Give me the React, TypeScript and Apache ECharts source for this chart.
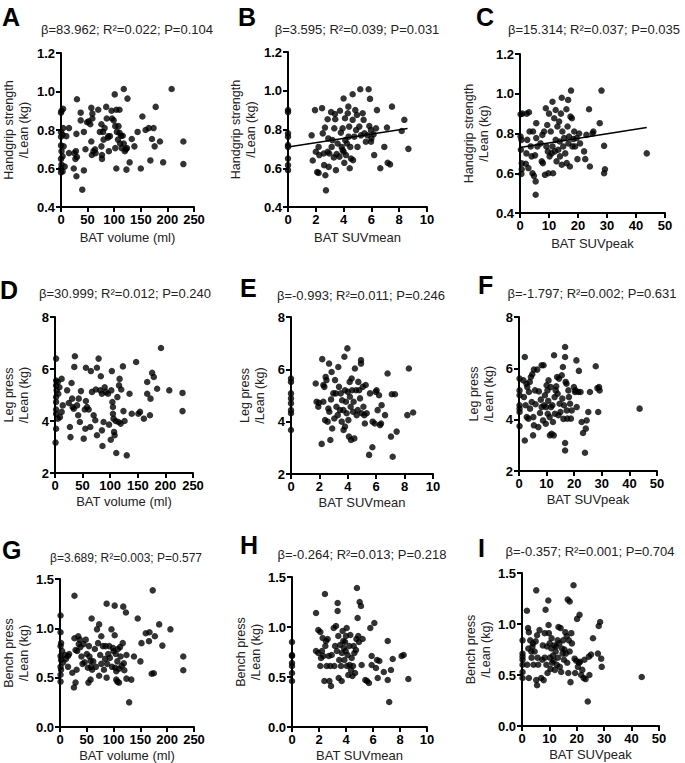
import React, { useEffect, useRef } from "react";
import * as echarts from "echarts";

const FONT = "'Liberation Sans', Arial, Helvetica, sans-serif";

// ---- data ----
const panelA: number[][] = [
  [4,0.91],[1,0.90],[0,0.89],[4,0.81],[0,0.79],[3,0.776],[0,0.765],[10,0.768],[5,0.715],[0,0.72],[1,0.69],[3,0.663],[0,0.65],[1,0.62],[7,0.61],[0,0.60],[3,0.585],[0,0.58],
  [15,0.81],[15,0.68],[25,0.68],[28,0.69],[30,0.96],[29,0.78],[30,0.66],[27,0.65],[24,0.60],[29,0.56],[40,0.49],[43,0.59],[37,0.89],[37,0.85],[43,0.79],[46,0.70],
  [49,0.84],[52,0.845],[55,0.83],[57,0.915],[57,0.74],[59,0.86],[59,0.885],[58,0.67],[61,0.69],[64,0.70],[65,0.68],[70,0.905],[73,0.79],[76,0.83],[76,0.715],[77,0.67],
  [77,0.65],[79,0.79],[80,0.75],[82,0.81],[85,0.92],[86,0.86],[88,0.76],[89,0.768],[92,0.768],[90,0.69],[95,0.90],[96,0.86],[99,0.85],[101,0.985],[102,0.82],[102,0.706],
  [104,0.60],[104,0.905],[105,0.79],[107,0.75],[108,0.82],[110,0.785],[110,0.905],[111,0.73],[113,0.77],[114,0.706],[116,0.77],[118,1.013],[118,0.73],[120,0.69],[122,0.70],
  [123,0.594],[125,0.963],[124,0.706],[129,0.632],[133,0.753],[138,0.715],[144,0.79],[150,0.60],[153,0.87],[159,0.80],[165,0.81],[168,0.642],[171,0.753],[174,0.81],
  [176,0.715],[178,0.92],[186,0.74],[192,0.632],[208,1.013],[230,0.74],[230,0.623]
];
const panelB: number[][] = [
  [0,0.90],[0,0.89],[0,0.78],[0,0.763],[0,0.72],[0,0.71],[0,0.65],[0,0.616],[0,0.59],
  [1.7,0.77],[1.78,0.64],[1.94,0.90],[2.0,0.685],[2.1,0.58],[2.2,0.71],[2.25,0.668],[2.2,0.576],[2.45,0.91],[2.5,0.78],[2.57,0.676],[2.6,0.616],[2.66,0.81],[2.69,0.564],
  [2.73,0.486],[2.85,0.853],[2.9,0.754],[2.85,0.685],[2.93,0.607],[2.97,0.676],[3.1,0.89],[3.14,0.71],[3.2,0.745],[3.3,0.656],[3.33,0.806],[3.38,0.88],[3.4,0.853],
  [3.45,0.59],[3.5,0.673],[3.57,0.728],[3.7,0.66],[3.74,0.897],[3.8,0.784],[3.86,0.71],[3.93,0.694],[3.93,0.806],[4.0,0.96],[4.0,0.685],[4.05,0.628],[4.1,0.858],
  [4.12,0.745],[4.17,0.668],[4.24,0.728],[4.3,0.884],[4.34,0.918],[4.36,0.763],[4.4,0.815],[4.44,0.6],[4.48,0.71],[4.53,0.65],[4.65,0.982],[4.65,0.85],[4.68,0.642],
  [4.77,0.763],[4.84,0.90],[4.9,0.797],[4.96,0.875],[5.0,0.71],[5.13,0.815],[5.2,1.008],[5.25,0.77],[5.37,0.884],[5.44,0.85],[5.5,0.78],[5.6,0.737],[5.73,0.77],
  [5.8,1.008],[5.85,0.818],[5.9,0.958],[5.97,0.797],[5.97,0.737],[6.0,0.754],[6.16,0.775],[6.2,0.668],[6.33,0.806],[6.4,0.90],[6.64,0.6],[6.93,0.71],[7.12,0.81],
  [7.17,0.628],[7.34,0.62],[7.48,0.918],[8.18,0.792],[8.37,0.85],[8.66,0.70]
];
const panelC: number[][] = [
  [0.2,0.897],[0.8,0.90],[0.2,0.785],[0.5,0.768],[0.3,0.718],[0.6,0.65],[0.6,0.62],[0.5,0.597],[2,0.648],[2.2,0.70],[2.3,0.90],[2.5,0.768],[2.9,0.626],[3.1,0.907],
  [3.3,0.81],[3.7,0.735],[4,0.685],[4.3,0.60],[4.5,0.81],[4.8,0.587],[5.2,0.69],[5.4,0.559],[5.4,0.492],[5.6,0.852],[5.6,0.777],[6,0.735],[7.1,0.75],[7.5,0.66],
  [7.7,0.793],[7.9,0.651],[8.3,0.81],[8.6,0.592],[8.9,0.927],[9.1,0.735],[9.4,0.843],[9.6,0.71],[9.8,0.60],[10,0.90],[10.2,0.685],[10.6,0.81],[10.9,0.70],[11.2,0.96],
  [11.2,0.735],[11.4,0.60],[11.8,0.877],[12,0.71],[12.3,0.768],[12.3,0.918],[12.6,0.66],[12.9,0.835],[13.2,0.718],[13.5,0.86],[13.7,0.76],[13.8,0.685],[14.1,0.90],
  [14.4,0.98],[14.4,0.643],[14.6,0.81],[14.9,0.735],[15.2,0.777],[15.6,0.70],[16,0.922],[16.1,0.651],[16.4,0.835],[16.6,0.969],[16.7,0.75],[16.9,0.785],[17.2,0.634],
  [17.4,0.885],[17.6,1.016],[17.9,0.877],[18.1,0.735],[18.4,0.772],[18.7,0.81],[19,0.735],[19.5,0.777],[19.8,0.671],[20.4,0.80],[20.7,0.75],[22.1,0.71],[22.5,0.671],
  [22.9,0.793],[23.8,0.922],[24.1,0.634],[25,0.80],[25.3,0.81],[27.5,0.852],[28.1,1.016],[29,0.738],[29,0.60],[29.3,0.62],[43.7,0.70]
];
const panelD: number[][] = [
  [2,6.4],[2,5.56],[2,5.37],[3,5.18],[2,4.92],[2,4.73],[2,4.44],[2,4.28],[2,3.7],[1,3.17],[5,5.5],[6,5.05],[8,5.3],[5,4.09],[9,4.15],[12,5.62],[14,4.6],[12,4.35],
  [22,5.18],[25,4.69],[27,3.77],[28,3.38],[30,5.46],[31,4.86],[32,4.54],[34,4.47],[35,6.08],[36,6.49],[40,4.6],[42,4.22],[43,4.86],[45,3.96],[47,5.15],[52,3.32],
  [54,4.44],[55,3.7],[56,6.05],[56,4.77],[58,4.54],[61,4.44],[64,3.77],[65,5.92],[67,5.12],[70,4.22],[73,4.03],[74,5.21],[76,3.45],[76,6.05],[79,6.4],[82,5.18],
  [83,5.72],[85,5.05],[85,3.64],[86,3.04],[88,3.96],[90,5.3],[92,5.12],[96,5.05],[98,3.86],[101,3.28],[102,5.18],[103,5.92],[104,4.73],[105,4.54],[105,4.28],[106,4.09],
  [107,3.58],[108,3.45],[110,4.0],[111,2.77],[113,4.92],[115,3.96],[116,5.37],[117,5.62],[119,3.9],[120,5.21],[123,6.1],[124,4.38],[126,4.0],[130,2.68],[135,5.05],
  [139,4.28],[147,6.27],[151,4.28],[154,4.35],[161,4.09],[167,5.5],[167,5.05],[172,4.22],[173,4.86],[176,5.85],[179,5.69],[185,5.24],[192,6.81],[207,5.18],[231,5.08],[231,4.38]
];
const panelE: number[][] = [
  [0,5.65],[0,5.52],[0,5.08],[0,4.89],[0,4.7],[0,4.44],[0,4.32],[0,3.68],
  [1.74,5.46],[1.8,4.76],[1.92,4.57],[1.97,4.72],[2.16,3.15],[2.2,6.39],[2.28,4.76],[2.28,5.4],[2.35,5.33],[2.4,4.06],[2.44,5.71],[2.5,5.59],[2.58,4.0],[2.63,4.5],
  [2.68,6.22],[2.7,4.38],[2.77,3.3],[2.82,4.85],[2.86,5.9],[2.9,3.74],[2.98,5.08],[3.05,4.12],[3.1,5.59],[3.15,5.08],[3.2,4.57],[3.29,4.25],[3.33,6.09],[3.38,5.33],
  [3.45,4.44],[3.5,5.08],[3.57,4.0],[3.6,4.82],[3.69,4.44],[3.7,3.68],[3.76,6.48],[3.8,5.2],[3.8,3.81],[3.87,4.76],[3.92,4.32],[3.97,6.8],[4.0,5.14],[4.04,4.06],
  [4.08,3.43],[4.13,5.52],[4.15,4.95],[4.2,4.57],[4.23,3.3],[4.27,5.65],[4.3,5.2],[4.37,4.38],[4.41,4.76],[4.46,3.36],[4.5,6.03],[4.58,5.2],[4.62,4.25],[4.7,4.44],
  [4.74,5.52],[4.8,5.2],[4.86,4.89],[4.93,6.35],[4.93,6.22],[4.98,4.32],[5.05,5.33],[5.1,4.57],[5.16,4.25],[5.2,3.93],[5.26,5.4],[5.33,4.32],[5.5,2.73],[5.56,5.08],
  [5.73,3.02],[5.75,4.0],[5.9,3.93],[5.96,5.14],[6.03,5.2],[6.1,4.44],[6.2,5.01],[6.27,3.87],[6.34,3.93],[6.38,4.63],[6.62,4.25],[6.8,5.84],[7.04,3.43],[7.1,5.05],
  [7.16,2.66],[7.32,5.05],[7.44,3.62],[8.19,4.25],[8.3,6.03],[8.6,4.35]
];
const panelF: number[][] = [
  [0.2,5.6],[0.2,5.14],[0.2,4.95],[0.2,4.56],[0.2,4.43],[0.2,4.3],[0.2,3.75],[1.6,5.53],[1.8,4.88],[2.1,6.44],[2.1,3.19],[2.4,4.56],[2.7,5.4],[2.8,4.1],[3.0,5.27],
  [3.4,4.04],[3.6,5.08],[3.9,5.47],[4.0,4.43],[4.3,5.66],[4.6,4.69],[4.8,5.77],[5.1,3.39],[5.2,4.1],[5.4,3.78],[5.4,5.95],[5.8,5.14],[6.0,4.6],[6.6,5.95],[7.0,3.71],
  [7.2,5.1],[7.6,4.26],[7.9,4.78],[8.2,6.12],[8.2,4.49],[8.7,3.97],[8.9,6.12],[9.1,4.56],[9.4,4.95],[9.7,3.84],[9.8,4.49],[10,5.34],[10.3,5.14],[10.4,4.23],[10.6,4.73],
  [10.7,5.53],[11.1,4.1],[11.2,3.39],[11.5,5.27],[11.6,4.49],[11.8,3.45],[12.1,4.56],[12.3,3.91],[12.6,3.39],[12.7,6.51],[12.9,4.88],[13.0,4.23],[13.3,5.14],[13.5,5.3],
  [13.8,5.66],[14.0,5.01],[14.3,4.17],[14.5,5.6],[14.7,4.62],[15.0,4.3],[15.5,5.73],[15.7,4.82],[15.9,6.05],[16.1,4.03],[16.3,4.56],[16.7,6.83],[16.7,6.44],[16.7,3.09],
  [16.7,2.8],[16.9,5.47],[17.2,5.4],[17.3,4.36],[17.5,4.04],[17.9,5.14],[18.1,4.88],[18.5,4.62],[18.8,4.04],[19.1,4.36],[19.9,5.27],[20.3,5.08],[20.5,5.14],[20.8,6.31],
  [20.9,4.49],[21.5,5.08],[21.7,5.9],[22.3,5.08],[22.7,3.91],[23.2,3.48],[23.9,2.71],[24.2,3.65],[24.5,3.97],[25.1,4.3],[25.7,5.08],[27.8,6.08],[28.4,5.23],[28.7,4.3],
  [29,5.27],[29.2,5.14],[43.7,4.43]
];
const panelG: number[][] = [
  [1,1.13],[1,0.96],[2,0.85],[1,0.82],[4,0.77],[1,0.72],[2,0.68],[6,0.655],[1,0.61],[2,0.58],[1,0.53],[1,0.46],[9,0.73],[11,0.69],[15,0.72],[15,0.61],[17,0.74],
  [23,0.55],[26,0.40],[27,1.33],[27,0.90],[29,0.78],[29,0.45],[31,0.58],[32,0.77],[34,0.92],[35,0.84],[37,0.885],[38,0.81],[40,0.715],[42,0.64],[44,0.84],[46,0.655],
  [48,0.885],[50,0.74],[52,0.60],[53,0.45],[54,0.82],[55,0.715],[57,0.48],[57,0.67],[58,0.61],[59,1.1],[60,0.58],[62,0.665],[65,0.79],[67,0.61],[69,0.99],[71,0.85],
  [73,1.04],[73,0.52],[75,0.73],[77,0.92],[77,0.64],[80,0.82],[82,0.58],[84,0.69],[85,0.82],[87,1.25],[87,0.50],[88,0.64],[90,0.74],[92,0.82],[93,0.70],[96,0.99],
  [97,0.61],[99,0.80],[100,0.77],[102,1.23],[102,0.93],[103,0.60],[104,0.74],[105,0.565],[105,0.48],[107,0.665],[107,0.46],[108,0.79],[110,0.45],[110,0.59],[112,0.81],
  [113,0.715],[115,0.62],[117,0.85],[118,1.22],[119,0.645],[120,0.575],[123,1.16],[124,0.73],[124,0.49],[129,0.25],[133,0.48],[138,0.715],[145,1.1],[150,0.665],[152,0.85],
  [160,0.95],[166,0.87],[167,0.96],[171,0.54],[173,1.385],[175,0.545],[177,0.92],[185,1.04],[191,0.825],[206,0.99],[230,0.715],[230,0.575]
];
const panelH: number[][] = [
  [0,0.85],[0,0.72],[0,0.71],[0,0.64],[0,0.61],[0,0.54],[0,0.46],
  [1.78,1.14],[1.78,0.76],[1.95,0.97],[1.95,0.74],[2.1,0.95],[2.1,0.61],[2.15,0.69],[2.22,0.76],[2.27,0.89],[2.32,0.71],[2.4,0.46],[2.44,1.33],[2.47,0.81],[2.52,0.86],
  [2.57,0.61],[2.64,0.88],[2.72,0.71],[2.77,0.46],[2.84,0.61],[2.89,0.41],[2.94,0.72],[3.09,0.99],[3.14,0.61],[3.19,0.81],[3.26,1.01],[3.33,0.76],[3.38,1.24],[3.38,1.16],
  [3.43,0.91],[3.46,0.49],[3.5,0.67],[3.56,0.82],[3.63,0.61],[3.68,0.46],[3.7,0.74],[3.75,0.96],[3.8,0.86],[3.85,0.79],[3.88,0.67],[3.93,0.85],[3.98,0.76],[4.0,0.91],
  [4.05,0.99],[4.07,0.61],[4.12,0.72],[4.17,0.52],[4.25,0.81],[4.27,0.62],[4.32,0.92],[4.37,0.57],[4.42,0.69],[4.47,0.51],[4.52,0.61],[4.57,0.81],[4.62,0.74],[4.67,0.54],
  [4.74,0.77],[4.77,0.88],[4.81,1.39],[4.86,1.09],[4.91,0.91],[4.96,0.85],[5.01,1.25],[5.11,1.21],[5.16,0.62],[5.23,0.88],[5.43,0.47],[5.56,0.46],[5.7,0.44],[5.8,0.99],
  [5.9,0.71],[5.9,0.62],[6.1,1.04],[6.22,0.59],[6.3,0.67],[6.35,0.49],[6.47,0.66],[6.8,0.55],[7.09,0.86],[7.09,0.47],[7.2,0.25],[7.33,0.57],[7.46,0.68],[8.12,0.71],
  [8.27,0.72],[8.62,0.48]
];
const panelI: number[][] = [
  [0.2,0.84],[0.2,0.71],[0.2,0.68],[0.2,0.65],[0.2,0.6],[0.2,0.53],[0.2,0.47],[1.8,1.13],[1.9,0.6],[2.2,0.96],[2.3,0.76],[2.5,0.92],[2.5,0.47],[3.0,0.84],[3.4,0.73],
  [3.5,0.67],[3.8,0.78],[4.0,0.81],[4.2,0.6],[4.6,0.73],[5.0,0.83],[5.2,1.33],[5.2,0.45],[5.5,0.89],[5.5,0.4],[5.7,0.67],[5.9,0.6],[6.4,0.94],[7.0,0.47],[7.4,0.65],
  [7.6,0.79],[7.9,0.45],[8.3,0.67],[8.3,0.91],[8.6,1.14],[8.9,0.6],[9.1,0.78],[9.3,0.52],[9.6,1.23],[9.7,0.99],[9.8,0.91],[10.1,0.81],[10.2,0.67],[10.4,0.56],[10.7,0.76],
  [10.8,0.86],[11.0,0.62],[11.3,0.69],[11.5,0.64],[11.8,0.79],[12.0,0.55],[12.3,0.73],[12.5,0.78],[12.7,0.6],[13.0,0.84],[13.1,0.67],[13.3,0.97],[13.6,0.81],[13.8,0.58],
  [14.1,0.96],[14.3,0.53],[14.6,0.76],[14.8,0.71],[15.0,0.84],[15.3,0.65],[15.5,0.75],[15.8,0.92],[16.0,0.71],[16.3,0.88],[16.5,0.62],[16.7,1.24],[16.9,0.52],[17.1,0.84],
  [17.4,1.22],[17.4,0.73],[17.7,0.43],[18.0,0.91],[18.2,0.81],[18.8,1.38],[19.2,0.66],[19.4,0.52],[19.8,0.64],[20.1,1.05],[20.4,0.58],[20.8,0.62],[21.0,1.09],[21.2,0.63],
  [21.6,0.5],[22.0,0.55],[22.5,0.47],[22.8,0.65],[23.2,0.46],[24.0,0.24],[24.4,0.68],[24.6,0.5],[25.2,0.7],[25.9,0.86],[27.7,0.71],[28.0,0.98],[28.5,1.02],[28.9,0.66],
  [29.1,0.58],[43.7,0.48]
];

// fitted regression lines (B, C)
const fitB: number[][] = [[0, 0.71], [8.6, 0.805]];
const fitC: number[][] = [[0, 0.73], [43.7, 0.83]];

const letters = ["A", "B", "C", "D", "E", "F", "G", "H", "I"];
const stats = [
  "β=83.962; R²=0.022; P=0.104",
  "β=3.595; R²=0.039; P=0.031",
  "β=15.314; R²=0.037; P=0.035",
  "β=30.999; R²=0.012; P=0.240",
  "β=-0.993; R²=0.011; P=0.246",
  "β=-1.797; R²=0.002; P=0.631",
  "β=3.689; R²=0.003; P=0.577",
  "β=-0.264; R²=0.013; P=0.218",
  "β=-0.357; R²=0.001; P=0.704",
];
const xNames = ["BAT volume (ml)", "BAT SUVmean", "BAT SUVpeak"];
const yNames = ["Handgrip strength\n/Lean (kg)", "Leg press\n/Lean (kg)", "Bench press\n/Lean (kg)"];
const xRanges = [[0, 250, 50], [0, 10, 2], [0, 50, 10]];
const yRanges = [[0.4, 1.2, 0.2, 1], [2, 8, 2, 0], [0, 1.5, 0.5, 1]];
const panelData = [panelA, panelB, panelC, panelD, panelE, panelF, panelG, panelH, panelI];
const fits: (number[][] | null)[] = [null, fitB, fitC, null, null, null, null, null, null];

// ---- layout ----
const grids = [
  { left: 54, top: 53, width: 140, height: 154 },
  { left: 288, top: 52, width: 139, height: 155 },
  { left: 520, top: 54, width: 145, height: 159 },
  { left: 52, top: 317, width: 141, height: 156 },
  { left: 291, top: 317, width: 142, height: 157 },
  { left: 519, top: 317, width: 138, height: 154 },
  { left: 60, top: 579, width: 134, height: 148 },
  { left: 292, top: 577, width: 135, height: 150 },
  { left: 522, top: 573, width: 137, height: 153 },
];
const yNameGaps = [30, 30, 29, 24, 24, 23, 29, 29, 29];
const statPos = [[127, 29], [357, 29], [594, 29], [125, 293], [361, 295], [592, 293], [126, 558], [362, 554], [590, 551]];
const letterPos = [[2, 4], [238, 4], [476, 4], [0, 277], [240, 275], [478, 272], [2, 537], [240, 532], [478, 535]];

export default function App() {
  const ref = useRef<HTMLDivElement>(null);
  useEffect(() => {
    if (!ref.current) return;
    const chart = echarts.init(ref.current, null, { renderer: "svg" });
    const xAxis: any[] = [];
    const yAxis: any[] = [];
    const series: any[] = [];
    const graphic: any[] = [];
    for (let i = 0; i < 9; i++) {
      const col = i % 3;
      const row = Math.floor(i / 3);
      const [xmin, xmax, xint] = xRanges[col];
      const [ymin, ymax, yint, dec] = yRanges[row];
      const axisLine = { show: true, onZero: false, lineStyle: { color: "#000", width: 2 } };
      const axisTick = { show: true, inside: false, length: 5, lineStyle: { color: "#000", width: 2 } };
      xAxis.push({
        type: "value", gridIndex: i, min: xmin, max: xmax, interval: xint,
        axisLine, axisTick, splitLine: { show: false },
        axisLabel: { color: "#000", fontFamily: FONT, fontWeight: "bold", fontSize: 13, margin: 6 },
        name: xNames[col], nameLocation: "middle", nameGap: row === 0 ? 24 : 22,
        nameTextStyle: { color: "#222", fontFamily: FONT, fontSize: 13 },
      });
      yAxis.push({
        type: "value", gridIndex: i, min: ymin, max: ymax, interval: yint,
        axisLine, axisTick, splitLine: { show: false },
        axisLabel: { color: "#000", fontFamily: FONT, fontWeight: "bold", fontSize: 13, margin: 6,
          formatter: (v: number) => v.toFixed(dec) },
        name: yNames[row], nameLocation: "middle", nameRotate: 90, nameGap: yNameGaps[i],
        nameTextStyle: { color: "#222", fontFamily: FONT, fontSize: 12.5, lineHeight: 15 },
      });
      series.push({
        type: "scatter", xAxisIndex: i, yAxisIndex: i, data: panelData[i],
        symbol: "circle", symbolSize: 6.5, itemStyle: { color: "#000" },
      });
      const f = fits[i];
      if (f) {
        series.push({
          type: "line", xAxisIndex: i, yAxisIndex: i, data: f, symbol: "none",
          lineStyle: { color: "#000", width: 1.5 },
        });
      }
      graphic.push({
        type: "text", x: letterPos[i][0], y: letterPos[i][1],
        style: { text: letters[i], font: `bold 25px ${FONT}`, fill: "#000", textVerticalAlign: "top" },
      });
      graphic.push({
        type: "text", x: statPos[i][0], y: statPos[i][1],
        style: { text: stats[i], font: `${i === 6 ? 12 : 13}px ${FONT}`, fill: "#222", textAlign: "center", textVerticalAlign: "middle" },
      });
    }
    chart.setOption({
      animation: false,
      backgroundColor: "#fff",
      grid: grids.map((g) => ({ ...g, containLabel: false })),
      xAxis, yAxis, series, graphic,
    });
    return () => chart.dispose();
  }, []);
  return (
    <div
      ref={ref}
      style={{ position: "fixed", left: 0, top: 0, width: 685, height: 763, background: "#fff" }}
    />
  );
}
